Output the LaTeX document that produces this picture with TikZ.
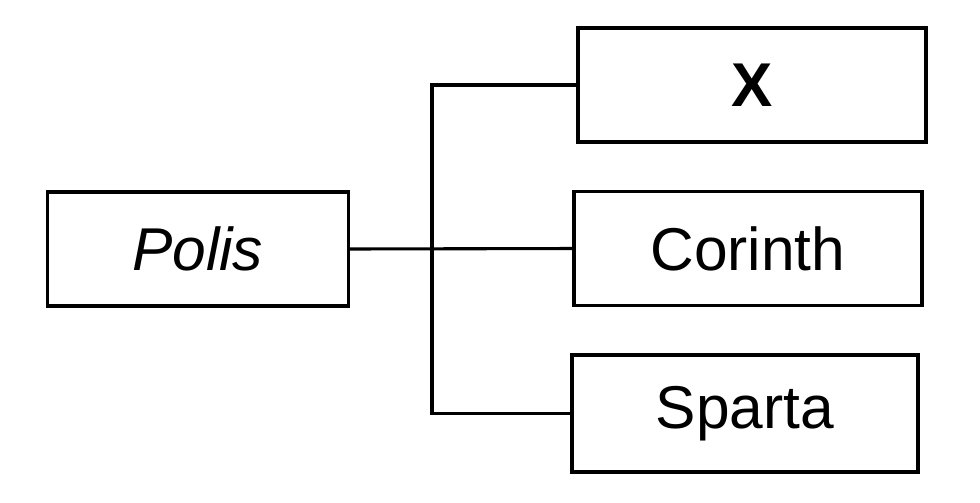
\documentclass[tikz,border=0pt]{standalone}
\usepackage{fontspec}
\setmainfont{Liberation Sans}
\usetikzlibrary{positioning}
\tikzset{
  cell/.style={draw=black,fill=white,line width=2.2pt,minimum height=2.85cm,inner sep=0pt,font=\fontsize{43}{50}\selectfont},
  link/.style={line width=2.2pt,draw=black},
}

\begin{document}
\begin{tikzpicture}
  \useasboundingbox (0,0) rectangle (24.5,12.55);
  % left box
  \node[cell,minimum width=7.525cm] (polis) at (4.94,6.325) {\textit{Polis}};
  % right column
  \node[cell,minimum width=8.7cm] (xbox) at (18.8,10.425) {\raisebox{-0.12cm}{\fontsize{44}{50}\selectfont\textbf{X}}};
  \node[cell,minimum width=8.7cm] (corinth) at (18.7,6.337) {Corinth};
  \node[cell,minimum width=8.65cm,minimum height=2.925cm] (sparta) at (18.625,2.212) {Sparta};
  % junction on the spine
  \coordinate (spine) at (10.8,6.325);
  \draw[link] (polis.east) -- (corinth.west);
  \draw[link] (xbox.west) -| (spine) |- (sparta.west);
\end{tikzpicture}
\end{document}
